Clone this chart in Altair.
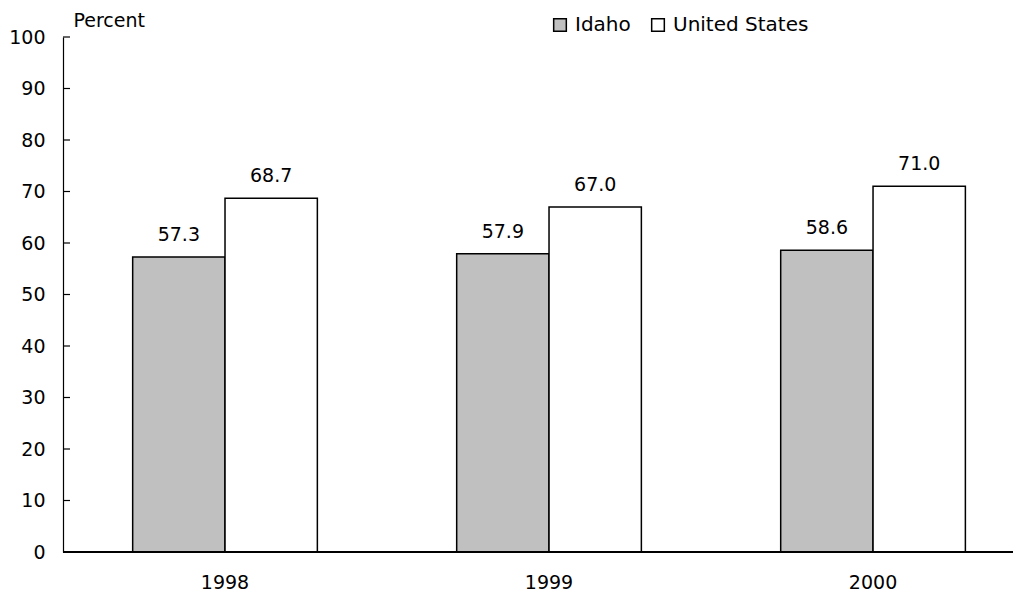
import altair as alt
import pandas as pd

years = ["1998", "1999", "2000"]
series = ["Idaho", "United States"]
idaho = [57.3, 57.9, 58.6]
united_states = [68.7, 67.0, 71.0]
y_ticks = [0, 10, 20, 30, 40, 50, 60, 70, 80, 90, 100]

rows = []
for i, yr in enumerate(years):
    rows.append({"year": yr, "series": "Idaho", "value": idaho[i]})
    rows.append({"year": yr, "series": "United States", "value": united_states[i]})
df = pd.DataFrame(rows)
df["label"] = df["value"].map(lambda v: f"{v:.1f}")
ticks_df = pd.DataFrame({"value": y_ticks})

W = 950
H = 515
FONT = "DejaVu Sans"

xscale = alt.Scale(domain=years, paddingInner=0.43, paddingOuter=0.181, align=0.594)
yscale = alt.Scale(domain=[0, 100], nice=False)
off_scale = alt.Scale(domain=series, paddingInner=0, paddingOuter=0)

yaxis = alt.Axis(values=y_ticks, tickSize=0, labelPadding=18, grid=False,
                 domainColor="black", domainWidth=1.2,
                 labelFontSize=19, labelFont=FONT, labelColor="black",
                 title="Percent", titleAngle=0, titleAlign="left",
                 titleBaseline="bottom", titleX=10, titleY=-7,
                 titleFontSize=19, titleFontWeight="normal",
                 titleFont=FONT, titleColor="black")

base = alt.Chart(df)

bars = base.mark_bar(stroke="black", strokeWidth=1.5).encode(
    x=alt.X("year:N", scale=xscale, sort=years,
            axis=alt.Axis(title=None, domain=False, ticks=False, labelAngle=0,
                          labelPadding=21, labelFontSize=19, labelFont=FONT,
                          labelColor="black")),
    xOffset=alt.XOffset("series:N", scale=off_scale, sort=series),
    y=alt.Y("value:Q", scale=yscale, axis=yaxis),
    color=alt.Color("series:N", sort=series,
                    scale=alt.Scale(domain=series, range=["#c0c0c0", "#ffffff"]),
                    legend=alt.Legend(orient="none", legendX=487, legendY=-22,
                                      direction="horizontal", title=None,
                                      symbolType="square", symbolSize=160,
                                      symbolStrokeColor="black", symbolStrokeWidth=1.5,
                                      symbolOpacity=1,
                                      labelFontSize=20, labelFont=FONT,
                                      labelColor="black", labelOffset=5,
                                      columnPadding=17)),
)

labels = base.mark_text(baseline="bottom", dy=-12, fontSize=19, font=FONT, color="black").encode(
    x=alt.X("year:N", scale=xscale, sort=years),
    xOffset=alt.XOffset("series:N", scale=off_scale, sort=series),
    y=alt.Y("value:Q", scale=yscale, axis=yaxis),
    text="label:N",
)

ticks = alt.Chart(ticks_df).mark_rule(color="black", strokeWidth=1.2).encode(
    y=alt.Y("value:Q", scale=yscale, axis=yaxis),
    x=alt.value(0),
    x2=alt.value(7),
)

baseline = alt.Chart(ticks_df).mark_rule(color="black", strokeWidth=1.2).encode(
    x=alt.value(0),
    x2=alt.value(W),
    y=alt.value(H),
)

chart = alt.layer(bars, labels, ticks, baseline).properties(
    width=W, height=H, padding={"left": 0, "top": 3, "right": 0, "bottom": 0},
    background="white",
).configure_view(stroke=None)

chart.save("out.html", embed_options={"renderer": "svg", "actions": False})
